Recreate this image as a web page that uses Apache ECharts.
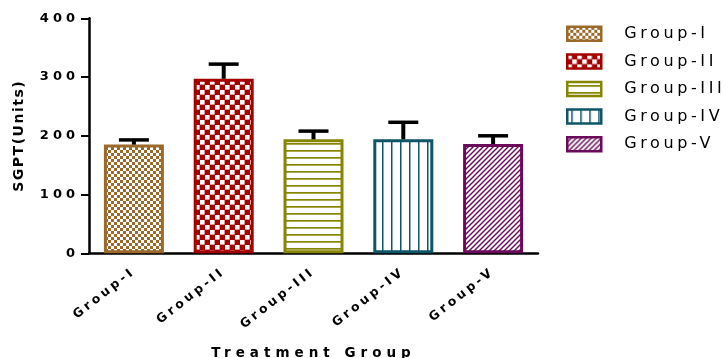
<!DOCTYPE html>
<html>
<head>
<meta charset="utf-8">
<script src="https://cdn.jsdelivr.net/npm/echarts@6/dist/echarts.min.js"></script>
<style>
  html, body { margin: 0; padding: 0; background: #ffffff; }
  #chart { width: 724px; height: 358px; }
</style>
</head>
<body>
<div id="chart"></div>
<script>
// ---- data ----
const categories = ['Group-I', 'Group-II', 'Group-III', 'Group-IV', 'Group-V'];
const sgptMean = [185, 297, 194, 194, 186];
const sgptUpperErr = [8, 25, 14, 29, 14];
const yTicks = [0, 100, 200, 300, 400];

// ---- styling ----
const groupColors = ['#9B6A2B', '#A50000', '#858500', '#0E5568', '#6B0A5B'];
const FONT = 'DejaVu Sans';

// Wide, tracked lettering: canvas letterSpacing chosen by font size.
const spacingBySize = { '12.5': '3.2px', '13': '4px', '13.5': '5px', '14': '1.5px', '16': '3.6px' };
const fontDesc = Object.getOwnPropertyDescriptor(CanvasRenderingContext2D.prototype, 'font');
Object.defineProperty(CanvasRenderingContext2D.prototype, 'font', {
  configurable: true,
  get() { return fontDesc.get.call(this); },
  set(v) {
    fontDesc.set.call(this, v);
    const m = /(\d+(?:\.\d+)?)px/.exec(v);
    if ('letterSpacing' in this) this.letterSpacing = (m && spacingBySize[m[1]]) || '0px';
  }
});

// Fill patterns for each group's bars
function makeTile(w, h, draw) {
  const c = document.createElement('canvas');
  c.width = w; c.height = h;
  const ctx = c.getContext('2d');
  ctx.fillStyle = '#ffffff';
  ctx.fillRect(0, 0, w, h);
  draw(ctx, w, h);
  return { image: c, repeat: 'repeat' };
}
const patterns = [
  // fine checkerboard
  makeTile(6, 6, (ctx) => {
    ctx.fillStyle = groupColors[0];
    ctx.fillRect(0, 0, 3, 3);
    ctx.fillRect(3, 3, 3, 3);
  }),
  // coarse checkerboard, white squares on red
  makeTile(10, 10, (ctx, w, h) => {
    ctx.fillStyle = groupColors[1];
    ctx.fillRect(0, 0, w, h);
    ctx.fillStyle = '#ffffff';
    ctx.fillRect(0, 0, 4.6, 4.6);
    ctx.fillRect(5, 5, 4.6, 4.6);
  }),
  // horizontal stripes
  makeTile(7, 7, (ctx, w) => {
    ctx.fillStyle = groupColors[2];
    ctx.fillRect(0, 3, w, 1.7);
  }),
  // vertical stripes
  makeTile(9, 9, (ctx, w, h) => {
    ctx.fillStyle = groupColors[3];
    ctx.fillRect(4, 0, 1.5, h);
  }),
  // diagonal hatching
  makeTile(5, 5, (ctx, w, h) => {
    ctx.strokeStyle = groupColors[4];
    ctx.lineWidth = 1.4;
    for (let k = -1; k <= 1; k++) {
      ctx.beginPath();
      ctx.moveTo(k * w - 1, h + 1);
      ctx.lineTo(k * w + w + 1, -1);
      ctx.stroke();
    }
  })
];

const barSeries = categories.map((name, i) => ({
  name: name,
  type: 'bar',
  stack: 'groups',
  barWidth: 60,
  data: categories.map((_, j) => (j === i ? sgptMean[i] : '-')),
  itemStyle: { color: patterns[i], borderColor: groupColors[i], borderWidth: 3 },
  emphasis: { disabled: true },
  z: 2
}));

const errorData = categories.map((_, i) => [i, sgptMean[i], sgptUpperErr[i]]);

const errorSeries = {
  type: 'custom',
  name: 'error',
  data: errorData,
  z: 5,
  silent: true,
  renderItem(params, api) {
    const i = api.value(0), v = api.value(1), e = api.value(2);
    const base = api.coord([i, v]);
    const top = api.coord([i, v + e]);
    const half = 15;
    return {
      type: 'group',
      children: [
        { type: 'line', shape: { x1: base[0], y1: base[1], x2: top[0], y2: top[1] },
          style: { stroke: '#000', lineWidth: 4 } },
        { type: 'line', shape: { x1: top[0] - half, y1: top[1], x2: top[0] + half, y2: top[1] },
          style: { stroke: '#000', lineWidth: 3.5 } }
      ]
    };
  }
};

const chart = echarts.init(document.getElementById('chart'), null, { renderer: 'canvas' });
chart.setOption({
  animation: false,
  backgroundColor: '#ffffff',
  grid: { left: 89, right: 186, top: 18.3, bottom: 104.7, outerBoundsMode: 'none' },
  legend: {
    data: categories,
    orient: 'vertical',
    left: 566,
    top: 24,
    padding: 0,
    itemWidth: 34,
    itemHeight: 14,
    itemGap: 8,
    icon: 'rect',
    itemStyle: { borderWidth: 2.5 },
    textStyle: { fontFamily: FONT, fontSize: 16, color: '#000', padding: [0, 0, 0, 18] }
  },
  xAxis: {
    type: 'category',
    data: categories,
    boundaryGap: true,
    name: 'Treatment Group',
    nameLocation: 'middle',
    nameGap: 91,
    nameTextStyle: { fontFamily: FONT, fontSize: 13.5, fontWeight: 'bold', color: '#000' },
    axisLine: { lineStyle: { color: '#000', width: 2.5 } },
    axisTick: { alignWithLabel: true, length: 5, lineStyle: { color: '#000', width: 2 } },
    axisLabel: { rotate: 38, margin: 17, fontFamily: FONT, fontSize: 12.5, fontWeight: 'bold', color: '#000' },
    splitLine: { show: false }
  },
  yAxis: {
    type: 'value',
    min: yTicks[0],
    max: yTicks[yTicks.length - 1],
    interval: yTicks[1] - yTicks[0],
    name: 'SGPT(Units)',
    nameLocation: 'middle',
    nameGap: 62,
    nameTextStyle: { fontFamily: FONT, fontSize: 14, fontWeight: 'bold', color: '#000' },
    axisLine: { show: true, lineStyle: { color: '#000', width: 2.5 } },
    axisTick: { show: true, length: 8, lineStyle: { color: '#000', width: 2 } },
    axisLabel: { margin: 10, fontFamily: FONT, fontSize: 13, fontWeight: 'bold', color: '#000' },
    splitLine: { show: false }
  },
  series: [...barSeries, errorSeries]
});
</script>
</body>
</html>
